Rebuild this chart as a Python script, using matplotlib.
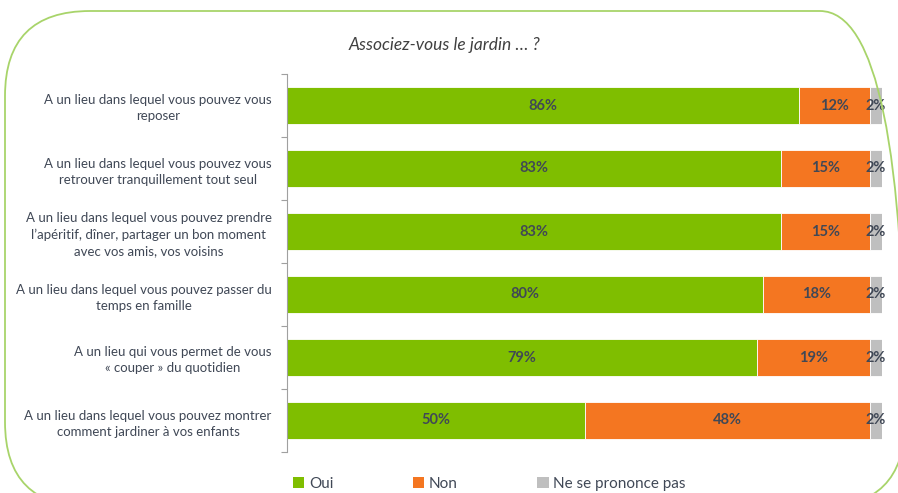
import matplotlib
matplotlib.use("Agg")
import matplotlib.pyplot as plt
from matplotlib.patches import FancyBboxPatch, Patch
import numpy as np

plt.rcParams["font.family"] = ["Lato", "DejaVu Sans"]

# ── data ─────────────────────────────────────────────────────────────────────
title = "Associez-vous le jardin … ?"
categories = [
    "A un lieu dans lequel vous pouvez vous\nreposer",
    "A un lieu dans lequel vous pouvez vous\nretrouver tranquillement tout seul",
    "A un lieu dans lequel vous pouvez prendre\nl’apéritif, dîner, partager un bon moment\navec vos amis, vos voisins",
    "A un lieu dans lequel vous pouvez passer du\ntemps en famille",
    "A un lieu qui vous permet de vous\n« couper » du quotidien",
    "A un lieu dans lequel vous pouvez montrer\ncomment jardiner à vos enfants",
]
oui = [86, 83, 83, 80, 79, 50]
non = [12, 15, 15, 18, 19, 48]
nsp = [2, 2, 2, 2, 2, 2]
series_names = ["Oui", "Non", "Ne se prononce pas"]
colors = ["#7FBE00", "#F47621", "#BFBFBF"]
TXT = "#404856"

# ── figure ───────────────────────────────────────────────────────────────────
fig = plt.figure(figsize=(8.98, 4.93), dpi=100)

# rounded green frame (in inches so corners stay round)
frame = FancyBboxPatch((0.05, -0.14), 9.0, 4.96,
                       boxstyle="round,pad=0.0,rounding_size=0.85",
                       transform=fig.dpi_scale_trans, fill=False,
                       edgecolor="#A8D46A", linewidth=1.3)
fig.patches.append(frame)

fig.text(444 / 898, 1 - 45 / 493, title, ha="center", va="center",
         fontsize=12.5, style="italic", color="#404040")

ax = fig.add_axes([287 / 898, 1 - 452 / 493, 595 / 898, 378 / 493])

y = np.arange(len(categories))
left = np.zeros(len(categories))
for vals, col in zip([oui, non, nsp], colors):
    vals = np.array(vals, dtype=float)
    ax.barh(y, vals, left=left, height=0.58, color=col,
            edgecolor="white", linewidth=0.6)
    for yi, l, v in zip(y, left, vals):
        ax.text(l + v / 2, yi, f"{int(v)}%", ha="center", va="center",
                fontsize=10.5, fontweight="bold", color=TXT)
    left += vals

ax.set_xlim(0, 100)
ax.set_ylim(len(categories) - 0.5, -0.5)
ax.set_yticks(y)
ax.set_yticklabels(categories, fontsize=9.5, color=TXT,
                   multialignment="center", linespacing=1.4)
ax.tick_params(axis="y", which="major", length=0, pad=11)
ax.set_yticks(np.arange(len(categories) + 1) - 0.5, minor=True)
ax.tick_params(axis="y", which="minor", length=4, color="#A0A0A0", width=0.8)
ax.xaxis.set_visible(False)
for s in ["top", "right", "bottom"]:
    ax.spines[s].set_visible(False)
ax.spines["left"].set_color("#A0A0A0")
ax.spines["left"].set_linewidth(0.8)

handles = [Patch(facecolor=c, edgecolor="none") for c in colors]
fig.legend(handles, series_names, loc="center left",
           bbox_to_anchor=(293 / 898, 1 - 484 / 493), ncol=3, frameon=False,
           fontsize=11, handlelength=0.75, handleheight=0.75,
           handletextpad=0.3, columnspacing=5.2, labelcolor=TXT,
           borderaxespad=0, borderpad=0)

fig.savefig("out.png", dpi=100)
